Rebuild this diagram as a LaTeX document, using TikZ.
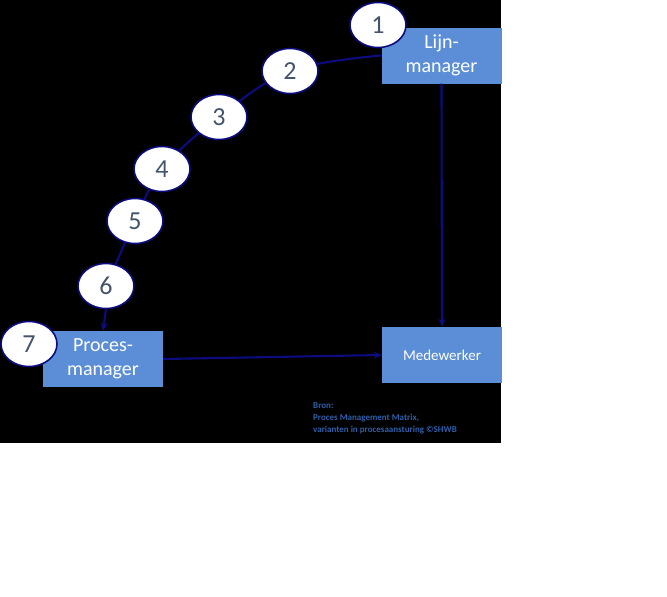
\documentclass[tikz,border=0pt]{standalone}
\usepackage{fontspec}
\setmainfont{Carlito}
\usetikzlibrary{arrows.meta,shapes.geometric}
\definecolor{boxblue}{HTML}{5B8ED6}
\definecolor{navy}{HTML}{0C0C80}
\definecolor{numcol}{HTML}{44546A}
\definecolor{broncol}{HTML}{2E5FA8}
\begin{document}
\begin{tikzpicture}[x=1pt,y=-1pt,
 box/.style={fill=boxblue,minimum width=120pt,minimum height=56pt,text=white,align=center,inner sep=0pt,font=\fontsize{20}{24}\selectfont},
 ell/.style={ellipse,draw=navy,line width=1.6pt,fill=white,minimum width=56pt,minimum height=45pt,inner sep=0pt,text=numcol,font=\fontsize{26}{26}\selectfont},
 conn/.style={draw=navy,line width=2.1pt},
 tip/.style={-{Stealth[length=8pt,width=7pt]}}]
\useasboundingbox (0,0) rectangle (667,597);
\fill[black] (0,0) rectangle (501,443);
% boxes
\node[box] (lijn) at (441.5,55.5) {Lijn-\\manager};
\node[box] (pm) at (103,359) {Proces-\\manager};
\node[box,font=\fontsize{15}{18}\selectfont] (mw) at (442,355) {Medewerker};
% curve coordinates
\coordinate (c2) at (290,71);
\coordinate (c3) at (219,117);
\coordinate (c4) at (162,169);
\coordinate (c5) at (135,221);
\coordinate (c6) at (106,286);
\draw[conn] plot[smooth,tension=0.6] coordinates {(lijn.west) (c2) (c3) (c4) (c5) (c6)};
% ellipses
\node[ell] (e2) at (c2) {2};
\node[ell] (e3) at (c3) {3};
\node[ell] (e4) at (c4) {4};
\node[ell] (e5) at (c5) {5};
\node[ell] (e6) at (c6) {6};
\node[ell] (e1) at (378,25) {1};
\node[ell] (e7) at (29,344) {7};
% connectors
\draw[conn,tip] (e6.south) -- (pm.north);
\draw[conn,tip] (lijn.south) -- (mw.north);
\draw[conn,tip] (pm.east) -- (mw.west);
% source
\node[anchor=north west,align=left,text=broncol,font=\bfseries\fontsize{9}{12}\selectfont,inner sep=0pt] (bron) at (313,402)
 {Bron:\\Proces Management Matrix,\\varianten in procesaansturing ©SHWB};
\end{tikzpicture}
\end{document}
